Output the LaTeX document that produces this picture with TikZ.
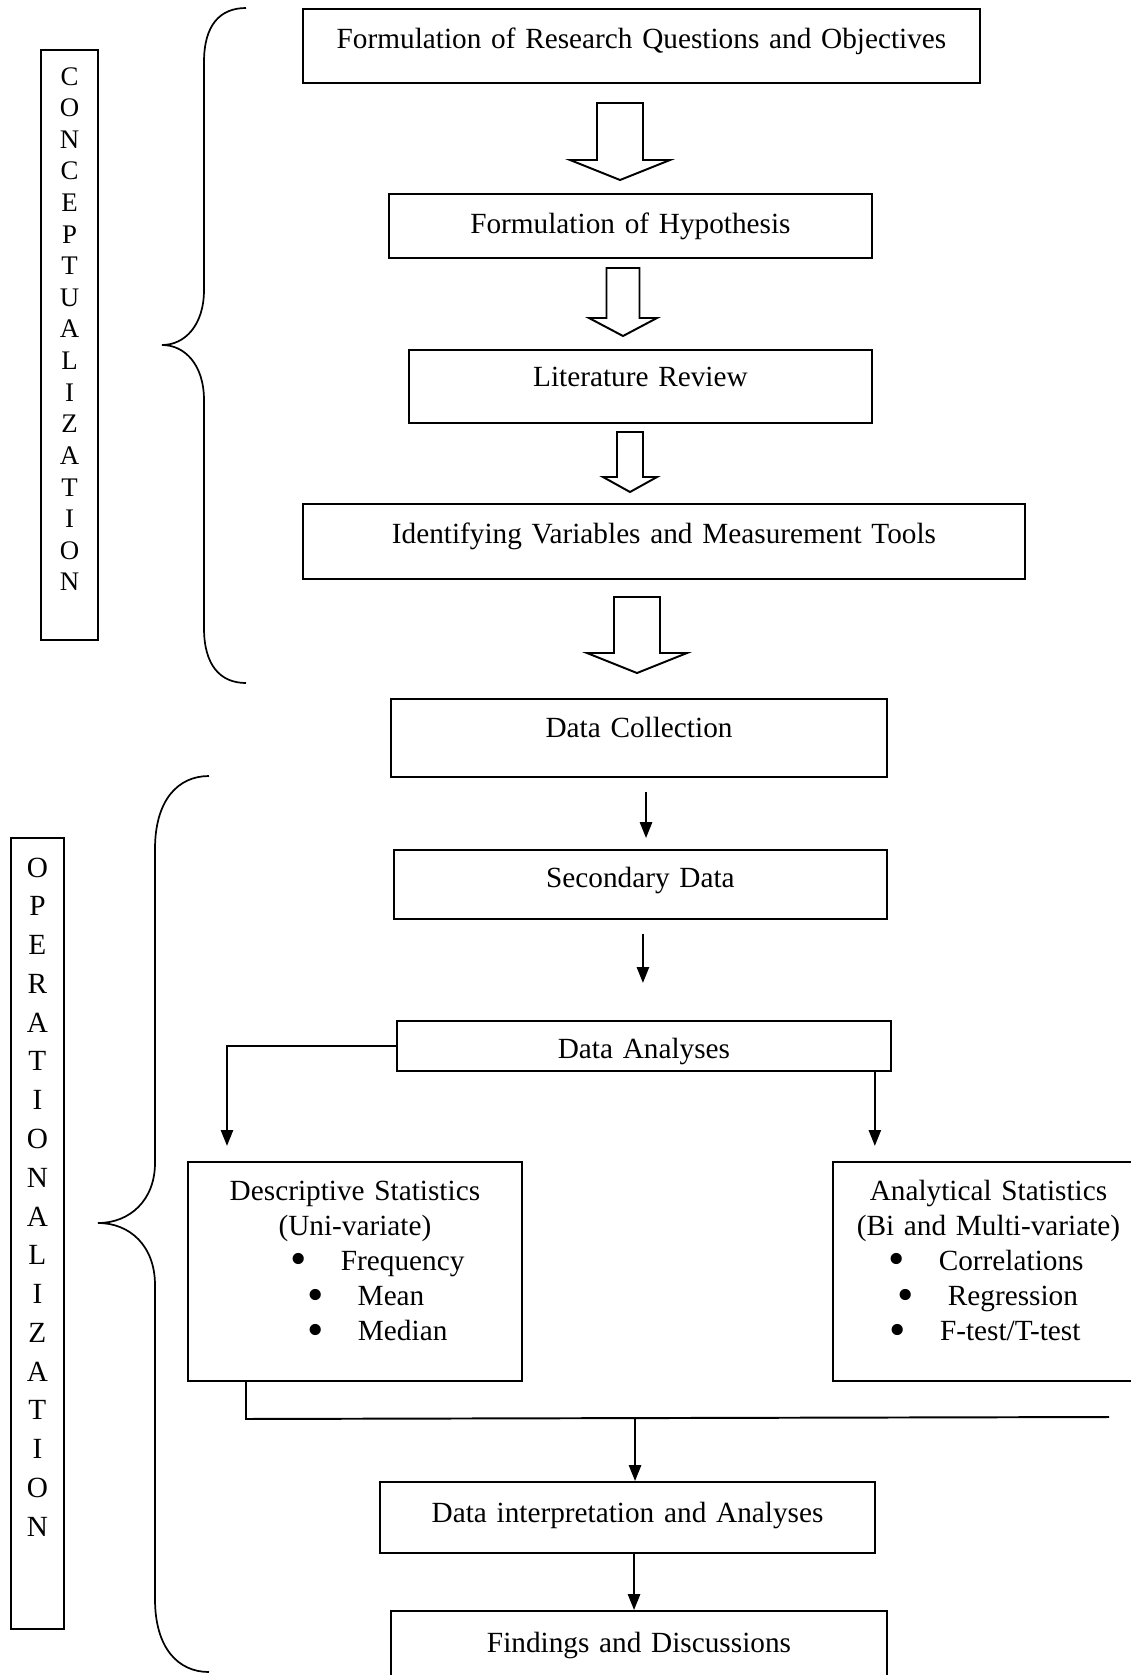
\documentclass[tikz,border=0pt]{standalone}
\usepackage{fontspec}
\usepackage{graphicx}
\setmainfont{Liberation Serif}
\usetikzlibrary{calc,arrows.meta}

% one bullet line of a statistics box: offset of the bullet, then the word
\newcommand{\statitem}[2]{\makebox[\hsize][l]{\hspace*{#1}\makebox[0pt]{\smash{\raisebox{-0.16em}{\scalebox{1.6}{\textbullet}}}}\hspace*{17.2pt}#2}}

\begin{document}
\begin{tikzpicture}[x=0.41pt,y=-0.41pt,
    every node/.style={font=\fontsize{12}{14.4}\selectfont},
    stepbox/.style={draw,line width=0.8pt,inner sep=0pt,align=center,anchor=north west},
    flow/.style={line width=0.8pt,-{Triangle[width=5pt,length=6.5pt]}},
    blockarrow/.style={line width=0.8pt,line join=miter},
    brace/.style={line width=0.7pt}]
    \useasboundingbox (0,0) rectangle (1131,1675);
    \clip (0,0) rectangle (1131,1675);
    \fill[white] (0,0) rectangle (1131,1675);

    % conceptualization
    \node[stepbox,text width=277.6pt,text height=16pt,text depth=14.4pt] (research) at (302,8) {Formulation of Research Questions and Objectives};
    \node[stepbox,text width=198pt,text height=16pt,text depth=10.3pt] (hypothesis) at (388,193) {Formulation of Hypothesis};
    \node[stepbox,text width=189.8pt,text height=14.8pt,text depth=15.2pt] (review) at (408,349) {Literature Review};
    \node[stepbox,text width=296pt,text height=16pt,text depth=14.8pt] (tools) at (302,503) {Identifying Variables and Measurement Tools};
    \node[stepbox,text width=203.4pt,text height=15.6pt,text depth=16.4pt] (collection) at (390,698) {Data Collection};

    \foreach \cx/\ya/\yb/\yc/\ws/\wh in {620/103/160/180/23/50, 623/268/318/336/16.5/34, 630/432/477/492/13/27, 637/597/653/673/23/50}
        \draw[blockarrow] (\cx-\ws,\ya) -- (\cx+\ws,\ya) -- (\cx+\ws,\yb) -- (\cx+\wh,\yb) -- (\cx,\yc) -- (\cx-\wh,\yb) -- (\cx-\ws,\yb) -- cycle;

    % operationalization
    \node[stepbox,text width=202.1pt,text height=15.2pt,text depth=13.1pt] (secondary) at (393,849) {Secondary Data};
    \node[stepbox,text width=202.5pt,text height=15.2pt,text depth=5.3pt] (analyses) at (396,1020) {Data Analyses};
    \node[stepbox,text width=136.9pt,text height=15.6pt,text depth=74.2pt] (desc) at (187,1161) {Descriptive Statistics\\(Uni-variate)\\\statitem{45.5pt}{Frequency}\\\statitem{52.4pt}{Mean}\\\statitem{52.5pt}{Median}};
    \node[stepbox,text width=127.5pt,text height=15.6pt,text depth=74.2pt] (anal) at (832,1161) {Analytical Statistics\\(Bi and Multi-variate)\\\statitem{26.2pt}{Correlations}\\\statitem{29.9pt}{Regression}\\\statitem{26.7pt}{F-test/T-test}};
    \node[stepbox,text width=203pt,text height=16.8pt,text depth=12.3pt] (interp) at (379,1481) {Data interpretation and Analyses};
    \node[stepbox,text width=203.4pt,text height=17.2pt,text depth=20.5pt] (findings) at (390,1610) {Findings and Discussions};

    \draw[flow,shorten <=5.7pt,shorten >=4.5pt] ($(collection.south)+(7,0)$) coordinate (c1) -- (c1 |- secondary.north);
    \draw[flow,shorten <=5.7pt,shorten >=15.2pt] ($(secondary.south)+(2.5,0)$) coordinate (c2) -- (c2 |- analyses.north);
    \coordinate (lbranch) at ($(desc.north west)+(40,0)$);
    \draw[flow,shorten >=6.2pt] (analyses.west) -| (lbranch);
    \coordinate (rbranch) at ($(analyses.south east)+(-17,0)$);
    \draw[flow,shorten >=6.2pt] (rbranch) -- (rbranch |- anal.north);
    \coordinate (mfoot) at ($(desc.south west)+(59,37)$);
    \coordinate (mend) at (1109,1417);
    \draw[line width=0.8pt] (mfoot |- desc.south) -- (mfoot) -- (mend);
    \coordinate (mjoin) at ($(mfoot -| interp.north)+(7.5,0)$);
    \draw[flow] (mjoin) -- (mjoin |- interp.north);
    \draw[flow] ($(interp.south)+(6.5,0)$) coordinate (c3) -- (c3 |- findings.north);

    % side labels and braces
    \node[stepbox,font=\fontsize{11}{12.96}\selectfont,text width=23.4pt,text height=14.4pt,text depth=227.6pt] (conlabel) at (40,49)
        {C\\O\\N\\C\\E\\P\\T\\U\\A\\L\\I\\Z\\A\\T\\I\\O\\N};
    \node[stepbox,font=\fontsize{12}{15.9}\selectfont,text width=21.7pt,text height=16pt,text depth=308.3pt] (oplabel) at (10,837)
        {O\\P\\E\\R\\A\\T\\I\\O\\N\\A\\L\\I\\Z\\A\\T\\I\\O\\N};
    \draw[brace] (246,8) .. controls (220,8) and (204,25) .. (204,62) -- (204,290)
        .. controls (204,325) and (185,345) .. (162,345) .. controls (185,345) and (204,365) .. (204,400)
        -- (204,628) .. controls (204,665) and (220,683) .. (246,683);
    \draw[brace] (209,776) .. controls (178,776) and (155,800) .. (155,849) -- (155,1163)
        .. controls (155,1200) and (130,1223) .. (98,1223) .. controls (130,1223) and (155,1246) .. (155,1285)
        -- (155,1599) .. controls (155,1648) and (178,1672) .. (209,1672);
\end{tikzpicture}
\end{document}
